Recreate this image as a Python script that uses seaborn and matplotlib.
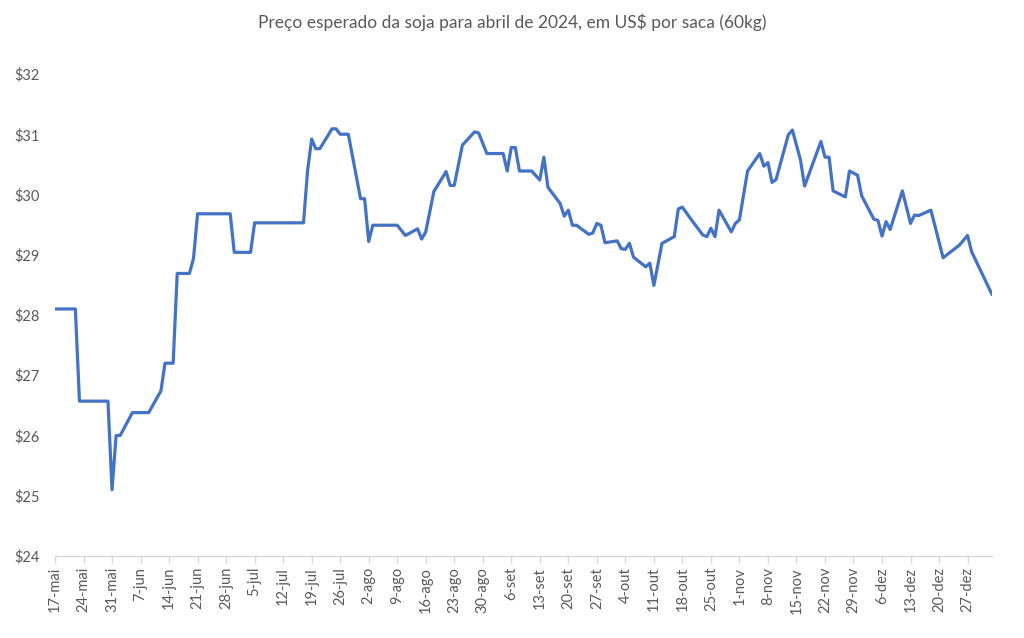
import numpy as np
import pandas as pd
import matplotlib
matplotlib.use("Agg")
import matplotlib.pyplot as plt
import seaborn as sns

# ---- data (day offsets from 17-mai-2023, price in US$/saca) ----
start_date = "2023-05-17"
day_offsets = [0, 5, 6, 13, 14, 15, 16, 19, 23, 26, 27, 29, 30, 33, 34, 35, 43, 44, 48, 49,
               61, 62, 63, 64, 65, 68, 69, 70, 72, 75, 76, 77, 78, 84, 86, 89, 90, 91, 93, 96,
               97, 98, 100, 103, 104, 106, 110, 111, 112, 113, 114, 117, 119, 120, 121, 124, 125,
               126, 127, 128, 131, 132, 133, 134, 135, 138, 139, 140, 141, 142, 145, 146, 147,
               149, 152, 153, 154, 156, 159, 160, 161, 162, 163, 166, 167, 168, 170, 173, 174,
               175, 176, 177, 180, 181, 183, 184, 188, 189, 190, 191, 194, 195, 197, 198, 201,
               202, 203, 204, 205, 208, 210, 211, 212, 215, 218, 222, 224, 225, 230]
prices = [28.10, 28.10, 26.57, 26.57, 25.10, 26.00, 26.00, 26.38, 26.38, 26.74, 27.20, 27.20,
          28.69, 28.69, 28.94, 29.68, 29.68, 29.04, 29.04, 29.53,
          29.53, 30.40, 30.92, 30.76, 30.76, 31.09, 31.09, 31.00, 31.00, 29.93, 29.93, 29.22,
          29.49, 29.49, 29.32, 29.43, 29.26, 29.38, 30.05, 30.38,
          30.15, 30.15, 30.82, 31.04, 31.02, 30.68, 30.68, 30.39, 30.78, 30.78, 30.39, 30.39,
          30.24, 30.62, 30.12, 29.85, 29.64,
          29.74, 29.49, 29.49, 29.34, 29.36, 29.52, 29.49, 29.20, 29.23, 29.10, 29.09, 29.19,
          28.96, 28.80, 28.86, 28.49,
          29.19, 29.30, 29.76, 29.79, 29.60, 29.33, 29.30, 29.44, 29.30, 29.74, 29.38, 29.52,
          29.58, 30.39, 30.68, 30.47,
          30.53, 30.20, 30.25, 30.99, 31.07, 30.57, 30.14, 30.88, 30.62, 30.62, 30.06, 29.96,
          30.39, 30.32, 29.98, 29.59,
          29.57, 29.31, 29.55, 29.42, 30.06, 29.52, 29.66, 29.65, 29.74, 28.95, 29.16, 29.32,
          29.05, 28.34]
title_text = "Preço esperado da soja para abril de 2024, em US$ por saca (60kg)"
month_pt = {5: "mai", 6: "jun", 7: "jul", 8: "ago", 9: "set", 10: "out", 11: "nov", 12: "dez"}
y_ticks = [24, 25, 26, 27, 28, 29, 30, 31, 32]

t0 = pd.Timestamp(start_date)
df = pd.DataFrame({"data": t0 + pd.to_timedelta(day_offsets, unit="D"), "preco": prices})

sns.set_style("white")
plt.rcParams["font.family"] = ["Lato", "DejaVu Sans"]

fig = plt.figure(figsize=(10.24, 6.38), dpi=100)
ax = fig.add_axes([55 / 1024, 82 / 638, 937 / 1024, 482 / 638])

sns.lineplot(data=df, x="data", y="preco", ax=ax, color="#4472C4", linewidth=2.3)

ax.set_xlim(t0, t0 + pd.Timedelta(days=230))
ax.set_ylim(24, 32)

tick_dates = pd.date_range(t0, t0 + pd.Timedelta(days=224), freq="7D")
ax.set_xticks(tick_dates)
ax.set_xticklabels([f"{d.day}-{month_pt[d.month]}" for d in tick_dates], rotation=90,
                   fontsize=10.5, color="#595959")
ax.set_yticks(y_ticks)
ax.set_yticklabels([f"${v}" for v in y_ticks], fontsize=10.5, color="#595959")

ax.set_xlabel("")
ax.set_ylabel("")
for s in ["top", "right", "left"]:
    ax.spines[s].set_visible(False)
ax.spines["bottom"].set_color("#D9D9D9")
ax.spines["bottom"].set_linewidth(1)
ax.tick_params(axis="x", which="major", length=5, color="#D9D9D9", width=1, pad=3, bottom=True)
ax.tick_params(axis="y", length=0, pad=11)
ax.grid(False)

fig.text(0.5, 1 - 22 / 638, title_text, ha="center", va="center", fontsize=12.5, color="#595959")

fig.savefig("out.png", dpi=100)
